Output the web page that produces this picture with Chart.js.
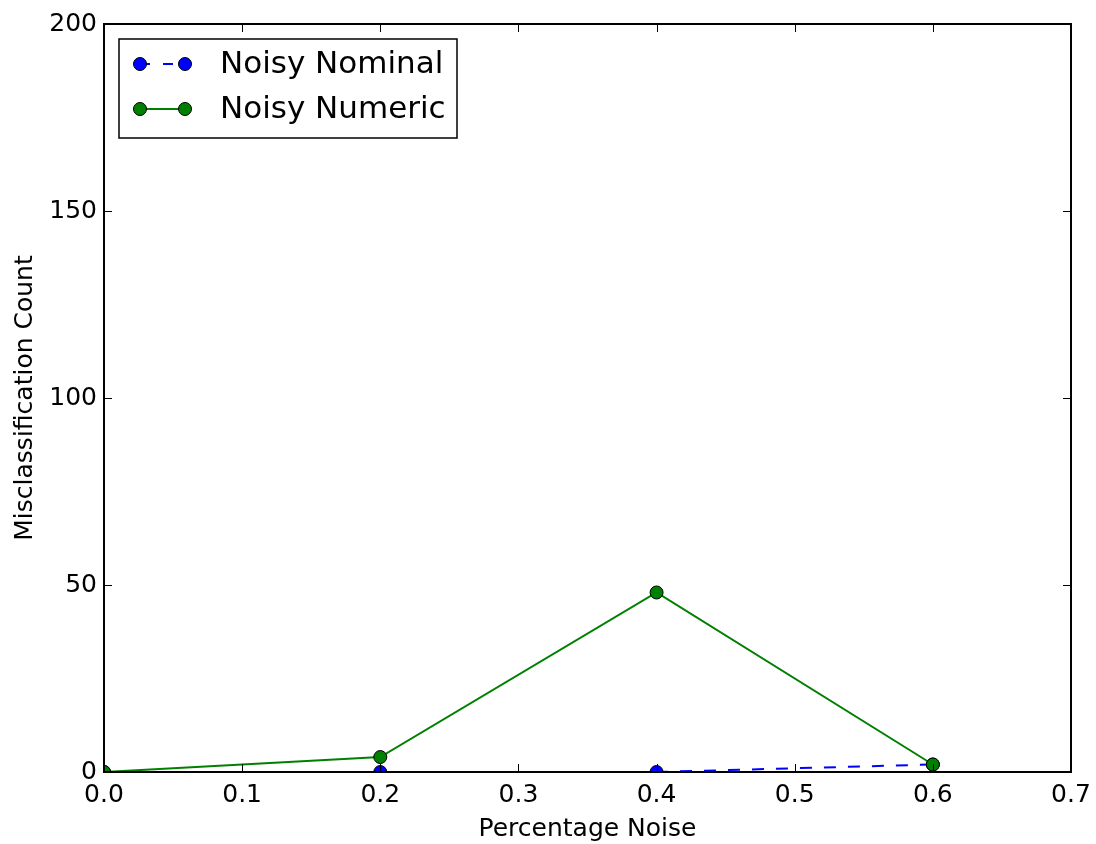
<!DOCTYPE html>
<html>
<head>
<meta charset="utf-8">
<script src="https://cdn.jsdelivr.net/npm/chart.js@4/dist/chart.umd.min.js"></script>
<style>
  body { margin: 0; background: #fff; }
  canvas { display: block; }
</style>
</head>
<body>
<canvas id="chart" width="1096" height="844"></canvas>
<script>
// ---------- DATA ----------
const noiseLevels = [0.0, 0.2, 0.4, 0.6];
const nominalCounts = [0, 0, 0, 2];
const numericCounts = [0, 4, 48, 2];
const xTicks = [0.0, 0.1, 0.2, 0.3, 0.4, 0.5, 0.6, 0.7];
const yTicks = [0, 50, 100, 150, 200];
const seriesNames = ["Noisy Nominal", "Noisy Numeric"];

const FONT = "'DejaVu Sans', sans-serif";

function toPoints(xs, ys) {
  return xs.map((x, i) => ({ x: x, y: ys[i] }));
}

// ---------- matplotlib-ish frame, inward ticks, legend ----------
const framePlugin = {
  id: "frame",
  afterDatasetsDraw(chart) {
    const { ctx, chartArea: a, scales } = chart;
    ctx.save();
    ctx.strokeStyle = "#000";
    ctx.lineWidth = 1;
    const len = 8;
    xTicks.forEach(t => {
      const px = Math.round(scales.x.getPixelForValue(t)) + 0.5;
      ctx.beginPath();
      ctx.moveTo(px, a.bottom); ctx.lineTo(px, a.bottom - len);
      ctx.moveTo(px, a.top); ctx.lineTo(px, a.top + len);
      ctx.stroke();
    });
    yTicks.forEach(t => {
      const py = Math.round(scales.y.getPixelForValue(t)) + 0.5;
      ctx.beginPath();
      ctx.moveTo(a.left, py); ctx.lineTo(a.left + len, py);
      ctx.moveTo(a.right, py); ctx.lineTo(a.right - len, py);
      ctx.stroke();
    });
    ctx.lineWidth = 2;
    ctx.strokeRect(a.left, a.top, a.right - a.left, a.bottom - a.top);

    // legend
    const lx = a.left + 15, ly = a.top + 15, lw = 338, lh = 99;
    ctx.fillStyle = "#fff";
    ctx.fillRect(lx, ly, lw, lh);
    ctx.lineWidth = 1.5;
    ctx.strokeRect(lx, ly, lw, lh);

    const rows = [
      { label: seriesNames[0], color: "#0000ff", dash: [10, 13], y: ly + 25 },
      { label: seriesNames[1], color: "#008000", dash: [], y: ly + 70 }
    ];
    rows.forEach(r => {
      const x0 = lx + 21, x1 = lx + 66;
      ctx.strokeStyle = r.color;
      ctx.lineWidth = 2;
      ctx.setLineDash(r.dash);
      ctx.beginPath();
      ctx.moveTo(x0, r.y); ctx.lineTo(x1, r.y);
      ctx.stroke();
      ctx.setLineDash([]);
      [x0, x1].forEach(cx => {
        ctx.beginPath();
        ctx.arc(cx, r.y, 6.5, 0, Math.PI * 2);
        ctx.fillStyle = r.color;
        ctx.fill();
        ctx.lineWidth = 1;
        ctx.strokeStyle = "#000";
        ctx.stroke();
      });
      ctx.fillStyle = "#000";
      ctx.font = "31px " + FONT;
      ctx.textBaseline = "middle";
      ctx.textAlign = "left";
      ctx.fillText(r.label, lx + 101, r.y + 1);
    });
    ctx.restore();
  }
};

new Chart(document.getElementById("chart"), {
  type: "line",
  data: {
    datasets: [
      {
        label: seriesNames[0],
        data: toPoints(noiseLevels, nominalCounts),
        borderColor: "#0000ff",
        backgroundColor: "#0000ff",
        borderWidth: 2,
        borderDash: [12, 12],
        pointRadius: 6.5,
        pointBorderWidth: 1,
        pointBorderColor: "#000",
        pointBackgroundColor: "#0000ff",
        clip: 0,
        order: 2
      },
      {
        label: seriesNames[1],
        data: toPoints(noiseLevels, numericCounts),
        borderColor: "#008000",
        backgroundColor: "#008000",
        borderWidth: 2,
        pointRadius: 6.5,
        pointBorderWidth: 1,
        pointBorderColor: "#000",
        pointBackgroundColor: "#008000",
        clip: 0,
        order: 1
      }
    ]
  },
  options: {
    responsive: false,
    animation: false,
    layout: { padding: { top: 24, right: 25, left: 0, bottom: 0 } },
    plugins: { legend: { display: false }, tooltip: { enabled: false } },
    scales: {
      x: {
        type: "linear",
        min: 0, max: 0.7,
        afterFit: s => { s.height = 72; s.paddingLeft = 0; s.paddingRight = 0; },
        afterBuildTicks: s => { s.ticks = xTicks.map(v => ({ value: v })); },
        grid: { display: false, drawTicks: false },
        border: { display: false },
        ticks: {
          padding: 8,
          color: "#000",
          font: { family: FONT, size: 25 },
          maxRotation: 0,
          callback: v => Number(v).toFixed(1)
        },
        title: {
          display: true,
          text: "Percentage Noise",
          color: "#000",
          font: { family: FONT, size: 25 },
          padding: { top: 0, bottom: 0 }
        }
      },
      y: {
        min: 0, max: 200,
        afterFit: s => { s.width = 104; s.paddingTop = 0; s.paddingBottom = 0; },
        afterBuildTicks: s => { s.ticks = yTicks.map(v => ({ value: v })); },
        grid: { display: false, drawTicks: false },
        border: { display: false },
        ticks: {
          padding: 7,
          color: "#000",
          font: { family: FONT, size: 25 }
        },
        title: {
          display: true,
          text: "Misclassification Count",
          color: "#000",
          font: { family: FONT, size: 25 },
          padding: { top: 10, bottom: 0 }
        }
      }
    }
  },
  plugins: [framePlugin]
});
</script>
</body>
</html>
